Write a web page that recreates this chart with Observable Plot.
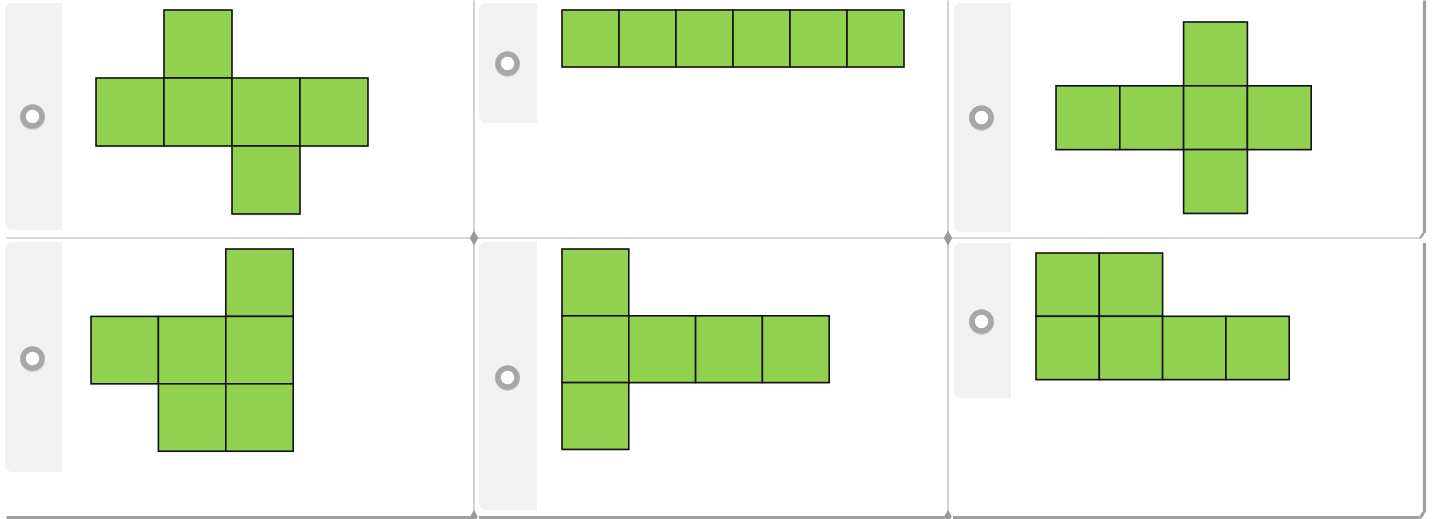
<!DOCTYPE html>
<html>
<head>
<meta charset="utf-8">
<script src="https://cdn.jsdelivr.net/npm/d3@7"></script>
<script src="https://cdn.jsdelivr.net/npm/@observablehq/plot@0.6"></script>
<style>
  html, body { margin: 0; padding: 0; background: #ffffff; }
  #chart svg { display: block; }
</style>
</head>
<body>
<div id="chart"></div>
<script>
// ---- Data: cube-net cells as [column, row] per answer option ----
const optionIds = ["A", "B", "C", "D", "E", "F"];
const net1 = [[1,0],[0,1],[1,1],[2,1],[3,1],[2,2]];
const net2 = [[0,0],[1,0],[2,0],[3,0],[4,0],[5,0]];
const net3 = [[2,0],[0,1],[1,1],[2,1],[3,1],[2,2]];
const net4 = [[2,0],[0,1],[1,1],[2,1],[1,2],[2,2]];
const net5 = [[0,0],[0,1],[1,1],[2,1],[3,1],[0,2]];
const net6 = [[0,0],[1,0],[0,1],[1,1],[2,1],[3,1]];
const nets = [net1, net2, net3, net4, net5, net6];

// ---- Layout (pixel frame of the page) ----
const W = 1435, H = 519;
const layout = [
  {strip: [5, 62, 3, 230],    radio: [32, 116],  origin: [96, 10],    size: 68},
  {strip: [479, 537, 3, 123], radio: [507, 63],  origin: [562, 10],   size: 57},
  {strip: [954, 1011, 3, 232],radio: [981, 117], origin: [1056, 22],  size: 63.8},
  {strip: [5, 62, 242, 472],  radio: [32, 358],  origin: [91, 249],   size: 67.4},
  {strip: [479, 537, 242, 510],radio: [507, 377],origin: [562, 249],  size: 66.8},
  {strip: [954, 1011, 243, 398],radio: [981, 321],origin: [1036, 253],size: 63.3}
];
const colLines = [473.5, 947.5];
const rowLine = 237.5;
const rightEdge = 1424;
const bottomEdge = 517;

const squares = nets.flatMap((cells, i) => {
  const L = layout[i];
  return cells.map(([c, r]) => ({
    id: optionIds[i],
    x1: L.origin[0] + c * L.size,
    x2: L.origin[0] + (c + 1) * L.size,
    y1: L.origin[1] + r * L.size,
    y2: L.origin[1] + (r + 1) * L.size
  }));
});
const strips = layout.map((L, i) => ({id: optionIds[i], x1: L.strip[0], x2: L.strip[1], y1: L.strip[2], y2: L.strip[3]}));
const stripsRight = strips.map(s => ({...s, x1: (s.x1 + s.x2) / 2}));
const radios = layout.map((L, i) => ({id: optionIds[i], x: L.radio[0], y: L.radio[1]}));

const lightRules = [
  ...colLines.map(x => ({x1: x, x2: x, y1: 0, y2: bottomEdge - 2})),
  {x1: 6, x2: rightEdge - 5, y1: rowLine, y2: rowLine}
];
const darkRules = [
  {x1: rightEdge, x2: rightEdge, y1: 0, y2: rowLine - 5},
  {x1: rightEdge, x2: rightEdge, y1: rowLine + 5, y2: bottomEdge - 5},
  {x1: 6, x2: colLines[0] - 3, y1: bottomEdge, y2: bottomEdge},
  {x1: colLines[0] + 5, x2: colLines[1] - 3, y1: bottomEdge, y2: bottomEdge},
  {x1: colLines[1] + 5, x2: rightEdge - 5, y1: bottomEdge, y2: bottomEdge}
];
const joints = colLines.map(x => ({x, y: rowLine}));
const bottomJoints = colLines.map(x => ({x, y: bottomEdge - 1}));

const chart = Plot.plot({
  width: W,
  height: H,
  margin: 0,
  x: {type: "linear", domain: [0, W], range: [0, W], axis: null},
  y: {type: "linear", domain: [0, H], range: [0, H], axis: null},
  marks: [
    // card shadows / separators
    Plot.link(lightRules, {x1: "x1", x2: "x2", y1: "y1", y2: "y2", stroke: "#c8c8c8", strokeWidth: 1.6}),
    Plot.link(darkRules, {x1: "x1", x2: "x2", y1: "y1", y2: "y2", stroke: "#a0a0a0", strokeWidth: 3.2}),
    // rounded corners of right/bottom edges
    Plot.link([{x1: rightEdge - 5, y1: bottomEdge, x2: rightEdge, y2: bottomEdge - 5}], {x1: "x1", x2: "x2", y1: "y1", y2: "y2", stroke: "#a0a0a0", strokeWidth: 3.2, curve: "bump-x"}),
    Plot.link([{x1: rightEdge - 5, y1: rowLine, x2: rightEdge, y2: rowLine - 5}], {x1: "x1", x2: "x2", y1: "y1", y2: "y2", stroke: "#a0a0a0", strokeWidth: 2.5, curve: "bump-x"}),
    Plot.dot(joints, {x: "x", y: "y", symbol: "diamond", r: 4.5, fill: "#9a9a9a"}),
    Plot.dot(bottomJoints, {x: "x", y: "y", symbol: "diamond", r: 4, fill: "#9a9a9a"}),
    // grey left strips
    Plot.rect(strips, {x1: "x1", x2: "x2", y1: "y1", y2: "y2", fill: "#f1f1f1", rx: 7}),
    Plot.rect(stripsRight, {x1: "x1", x2: "x2", y1: "y1", y2: "y2", fill: "#f1f1f1"}),
    // radio buttons
    Plot.dot(radios, {x: "x", y: d => d.y + 1, r: 9.5, stroke: "#8f8f8f", strokeOpacity: 0.35, strokeWidth: 6, fill: "none"}),
    Plot.dot(radios, {x: "x", y: "y", r: 9.5, stroke: "#a7a7a7", strokeWidth: 5.5, fill: "#ffffff"}),
    // cube-net squares
    Plot.rect(squares, {x1: "x1", x2: "x2", y1: d => d.y1 + 1.5, y2: d => d.y2 + 1.5, fill: "#d8d8d8", fillOpacity: 0.6}),
    Plot.rect(squares, {x1: "x1", x2: "x2", y1: "y1", y2: "y2", fill: "#92d050", stroke: "#111111", strokeWidth: 1.6})
  ]
});
document.getElementById("chart").appendChild(chart);
</script>
</body>
</html>
